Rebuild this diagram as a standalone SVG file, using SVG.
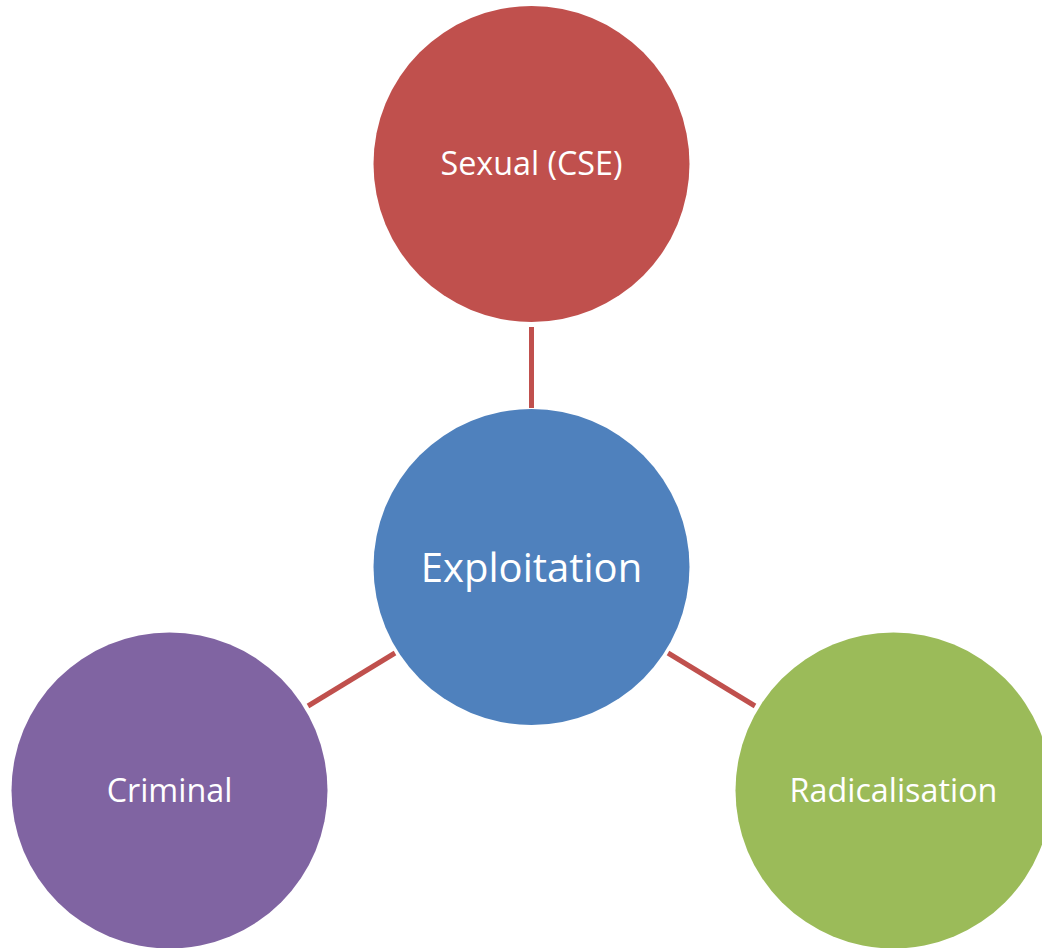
<svg xmlns="http://www.w3.org/2000/svg" width="1042" height="948" viewBox="0 0 1042 948">
<style>
.lbl{font-family:"Open Sans","Liberation Sans",sans-serif;fill:#FFFFFF;text-anchor:middle;font-size:32.3px}
.big{font-size:40px}
.conn line{stroke:#C0504D;stroke-width:5}
</style>
<rect width="1042" height="948" fill="#FFFFFF"/>
<g id="connectors" class="conn">
<line x1="531.5" y1="327" x2="531.5" y2="408"/>
<line x1="308" y1="706" x2="395" y2="653"/>
<line x1="668" y1="653" x2="755" y2="706"/>
</g>
<g id="node-sexual">
<circle cx="531.5" cy="164" r="158" fill="#C0504D"/>
<text class="lbl" x="531.5" y="175">Sexual (CSE)</text>
</g>
<g id="node-exploitation">
<circle cx="531.5" cy="567" r="158" fill="#4F81BD"/>
<text class="lbl big" x="531.5" y="582">Exploitation</text>
</g>
<g id="node-criminal">
<circle cx="169.5" cy="790.5" r="158" fill="#8064A2"/>
<text class="lbl" x="169.5" y="802">Criminal</text>
</g>
<g id="node-radicalisation">
<circle cx="893.5" cy="790.5" r="158" fill="#9BBB59"/>
<text class="lbl" x="893.5" y="802">Radicalisation</text>
</g>
</svg>
